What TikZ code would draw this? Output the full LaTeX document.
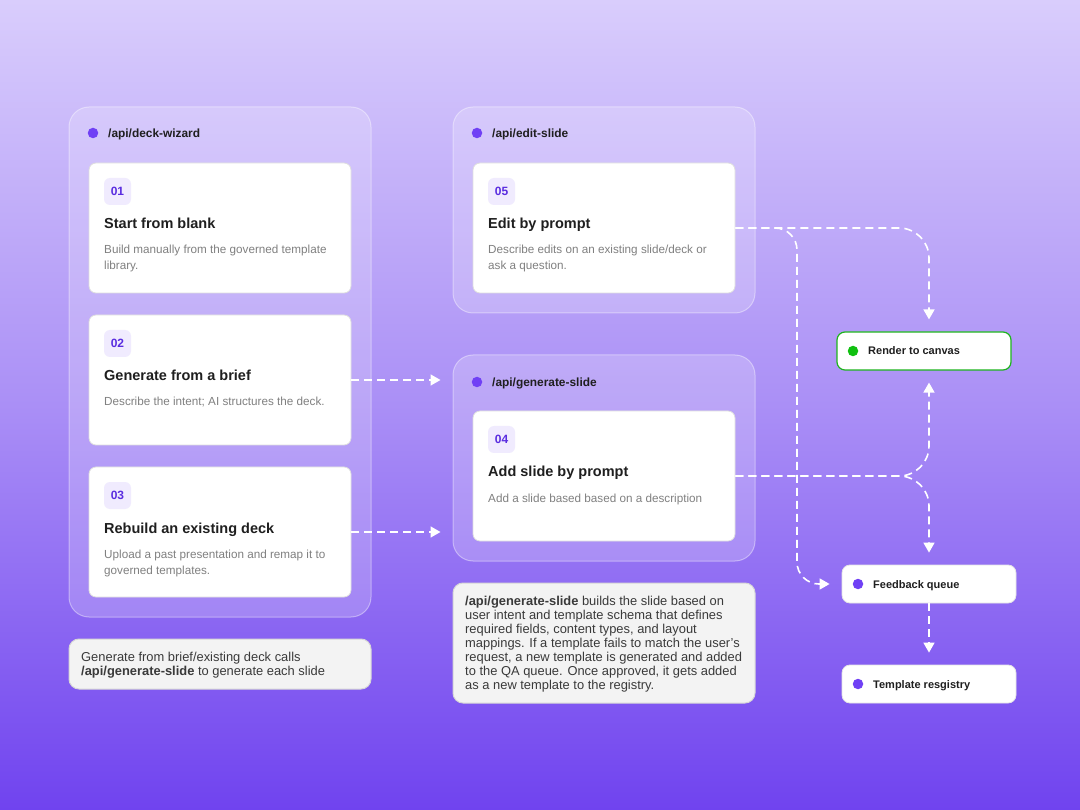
\documentclass[tikz,border=0pt]{standalone}
\usepackage{fontspec}
\setmainfont{Liberation Sans}
\usetikzlibrary{arrows.meta,calc}
\definecolor{bgtop}{RGB}{217,205,252}
\definecolor{bgmid}{RGB}{170,143,246}
\definecolor{bgbot}{RGB}{112,67,239}
\definecolor{dotpurple}{RGB}{112,64,245}
\definecolor{badgebg}{RGB}{240,235,254}
\definecolor{badgetx}{RGB}{90,45,224}
\definecolor{titletx}{RGB}{31,31,31}
\definecolor{desctx}{RGB}{128,128,128}
\definecolor{notetx}{RGB}{58,58,58}
\definecolor{notebg}{RGB}{243,243,243}
\definecolor{noteline}{RGB}{214,214,214}
\definecolor{greenline}{RGB}{30,180,30}
\definecolor{greendot}{RGB}{16,192,16}
\tikzset{
  panel/.style={draw=white, draw opacity=0.4, fill=white, fill opacity=0.2, rounded corners=20pt, line width=1pt, inner sep=0pt, minimum width=302pt},
  card/.style={draw=black!13, fill=white, rounded corners=7pt, line width=0.8pt, inner sep=0pt, minimum width=262pt, minimum height=130pt},
  badge/.style={fill=badgebg, text=badgetx, rounded corners=6pt, minimum size=27pt, inner sep=0pt, font=\fontsize{12}{13}\selectfont\bfseries},
  hdr/.style={anchor=base west, inner sep=0pt, text=titletx, font=\fontsize{11.9}{13}\selectfont\bfseries},
  lbl/.style={anchor=base west, inner sep=0pt, text=titletx, font=\fontsize{11}{13}\selectfont\bfseries},
  ttl/.style={anchor=base west, inner sep=0pt, text=titletx, font=\fontsize{14.5}{17}\selectfont\bfseries},
  dsc/.style={anchor=base west, inner sep=0pt, text=desctx, font=\fontsize{11.7}{13}\selectfont},
  ntx/.style={anchor=base west, inner sep=0pt, text=notetx, font=\fontsize{12.9}{14}\selectfont},
  notebox/.style={draw=noteline, fill=notebg, rounded corners=10pt, line width=1pt, inner sep=0pt, minimum width=302pt},
  smallbox/.style={draw=black!10, fill=white, rounded corners=8pt, line width=0.8pt, inner sep=0pt, minimum width=174pt, minimum height=38pt},
  dotp/.style={circle, fill=dotpurple, minimum size=10.5pt, inner sep=0pt},
  flow/.style={draw=white, line width=1.6pt, dash pattern=on 8pt off 5pt, -{Triangle[width=11pt,length=10pt]}, shorten >=12pt}
}
\begin{document}
\begin{tikzpicture}[x=1pt,y=-1pt]
\useasboundingbox (0,0) rectangle (1080,810);
\shade[top color=bgtop, bottom color=bgbot, middle color=bgmid] (0,0) rectangle (1080,810);

% ---------- left panel ----------
\node[panel, minimum height=510pt] (pw) at (220,362) {};
\node[dotp] (dw) at (93,133) {};
\node[hdr] (hw) at (108,137.5) {/api/deck-wizard};

\node[card] (c1) at (220,228) {};
\node[badge] (b1) at (117.5,191.5) {01};
\node[ttl] (t1) at (104,229) {Start from blank};
\node[dsc] (d1a) at (104,254) {Build manually from the governed template};
\node[dsc] (d1b) at (104,270) {library.};

\node[card] (c2) at (220,380) {};
\node[badge] (b2) at (117.5,343.5) {02};
\node[ttl] (t2) at (104,381) {Generate from a brief};
\node[dsc] (d2a) at (104,406) {Describe the intent; AI structures the deck.};

\node[card] (c3) at (220,532) {};
\node[badge] (b3) at (117.5,495.5) {03};
\node[ttl] (t3) at (104,533) {Rebuild an existing deck};
\node[dsc] (d3a) at (104,558) {Upload a past presentation and remap it to};
\node[dsc] (d3b) at (104,574) {governed templates.};

\node[notebox, minimum height=50pt] (n1) at (220,664) {};
\node[ntx] (n1a) at (81,661.5) {Generate from brief/existing deck calls};
\node[ntx] (n1b) at (81,675.5) {\textbf{/api/generate-slide} to generate each slide};

% ---------- edit panel ----------
\node[panel, minimum height=206pt] (pe) at (604,210) {};
\node[dotp] (de) at (477,133) {};
\node[hdr] (he) at (492,137.5) {/api/edit-slide};
\node[card] (c5) at (604,228) {};
\node[badge] (b5) at (501.5,191.5) {05};
\node[ttl] (t5) at (488,229) {Edit by prompt};
\node[dsc] (d5a) at (488,254) {Describe edits on an existing slide/deck or};
\node[dsc] (d5b) at (488,270) {ask a question.};

% ---------- generate panel ----------
\node[panel, minimum height=206pt] (pg) at (604,458) {};
\node[dotp] (dg) at (477,382) {};
\node[hdr] (hg) at (492,386.5) {/api/generate-slide};
\node[card] (c4) at (604,476) {};
\node[badge] (b4) at (501.5,439.5) {04};
\node[ttl] (t4) at (488,477) {Add slide by prompt};
\node[dsc] (d4a) at (488,502) {Add a slide based based on a description};

\node[notebox, minimum height=120pt] (n2) at (604,643) {};
\node[ntx] (n2a) at (465,605.5) {\textbf{/api/generate-slide} builds the slide based on};
\node[ntx] (n2b) at (465,619.5) {user intent and template schema that defines};
\node[ntx] (n2c) at (465,633.5) {required fields, content types, and layout};
\node[ntx] (n2d) at (465,647.5) {mappings. If a template fails to match the user's};
\node[ntx] (n2e) at (465,661.5) {request, a new template is generated and added};
\node[ntx] (n2f) at (465,675.5) {to the QA queue. Once approved, it gets added};
\node[ntx] (n2g) at (465,689.5) {as a new template to the registry.};

% ---------- right boxes ----------
\node[smallbox, draw=greenline, line width=1.2pt] (rc) at (924,351) {};
\node[circle, fill=greendot, minimum size=10.5pt, inner sep=0pt] (rcd) at (853,351) {};
\node[lbl] (rct) at (868,355) {Render to canvas};

\node[smallbox] (fq) at (929,584) {};
\node[dotp] (fqd) at (858,584) {};
\node[lbl] (fqt) at (873,588) {Feedback queue};

\node[smallbox] (tr) at (929,684) {};
\node[dotp] (trd) at (858,684) {};
\node[lbl] (trt) at (873,688) {Template resgistry};

% ---------- connectors ----------
\draw[flow] (c2.east) -- (c2.east -| pg.west);
\draw[flow] (c3.east) -- (c3.east -| pg.west);
\draw[flow, rounded corners=30pt] (c5.east) -| (rc.north -| fq.north);
\draw[flow, rounded corners=22pt] (c5.east) -| (797,584) -- (fq.west);
\draw[flow, rounded corners=30pt] (c4.east) -| (rc.south -| fq.north);
\draw[flow, rounded corners=30pt] (c4.east) -| (fq.north);
\draw[flow] (fq.south) -- (tr.north);
\end{tikzpicture}
\end{document}
